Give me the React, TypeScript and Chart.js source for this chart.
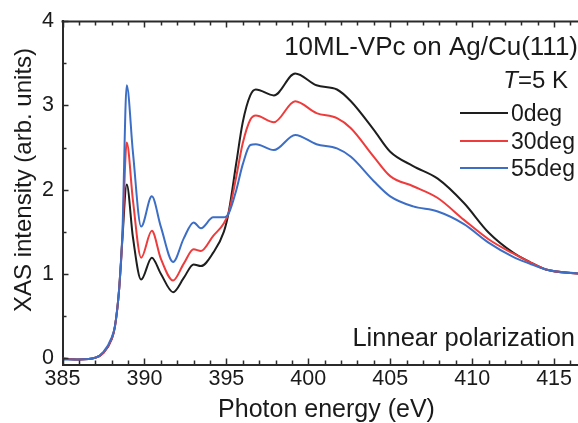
import { useEffect, useRef } from "react";
import { Chart, registerables } from "chart.js";

Chart.register(...registerables);

const energy = [385, 386, 387, 387.5, 388, 388.2, 388.45, 388.65, 388.92, 389.3, 389.8, 390.45, 391.0, 391.75, 392.4, 393.0, 393.45, 394.2, 394.85, 395.15, 395.6, 396.0, 396.46, 396.8, 397.9, 399.2, 400.5, 401.75, 402.6, 404.0, 405.0, 406.4, 407.9, 409.5, 411.0, 412.5, 413.5, 414.5, 416.5];
const deg0 = [-0.01, -0.02, 0.0, 0.06, 0.22, 0.37, 0.8, 1.4, 2.06, 1.43, 0.93, 1.19, 1.0, 0.78, 0.95, 1.11, 1.09, 1.25, 1.5, 1.74, 2.31, 2.8, 3.12, 3.19, 3.12, 3.38, 3.24, 3.19, 3.05, 2.71, 2.45, 2.28, 2.13, 1.84, 1.49, 1.25, 1.14, 1.05, 1.0];
const deg30 = [-0.01, -0.02, 0.0, 0.06, 0.22, 0.37, 0.8, 1.4, 2.56, 1.87, 1.19, 1.51, 1.18, 0.92, 1.12, 1.29, 1.27, 1.45, 1.6, 1.73, 2.15, 2.55, 2.83, 2.88, 2.8, 3.05, 2.91, 2.85, 2.73, 2.39, 2.16, 2.04, 1.9, 1.64, 1.41, 1.24, 1.14, 1.05, 1.0];
const deg55 = [-0.02, -0.02, 0.0, 0.07, 0.24, 0.38, 0.8, 1.45, 3.24, 2.44, 1.56, 1.92, 1.56, 1.14, 1.42, 1.61, 1.54, 1.67, 1.67, 1.72, 1.99, 2.3, 2.53, 2.54, 2.47, 2.65, 2.54, 2.49, 2.39, 2.1, 1.92, 1.8, 1.74, 1.59, 1.37, 1.2, 1.12, 1.05, 1.0];

const seriesLabels = ["0deg", "30deg", "55deg"];
const seriesColors = ["#1e1e1e", "#ee3b3b", "#3d6ec6"];
const seriesOrder = [2, 1, 0];

const xTicks = [385, 390, 395, 400, 405, 410, 415];
const yTicks = [0, 1, 2, 3, 4];

const sampleTitle = "10ML-VPc on Ag/Cu(111)";
const tempSymbol = "T";
const tempValue = "=5 K";
const polLabel = "Linnear polarization";
const xTitle = "Photon energy (eV)";
const yTitle = "XAS intensity (arb. units)";

const FONT = '"Liberation Sans", Arial, Helvetica, sans-serif';
const TEXT = "#1a1a1a";
const AXIS = "#2a2a2a";

const decorPlugin = {
  id: "decor",
  afterDraw(chart: any) {
    const { ctx, chartArea } = chart;
    const xs = chart.scales.x;
    const ys = chart.scales.y;
    ctx.save();
    // top frame line
    ctx.strokeStyle = AXIS;
    ctx.lineWidth = 2;
    ctx.beginPath();
    ctx.moveTo(chartArea.left - 1, chartArea.top);
    ctx.lineTo(chartArea.right, chartArea.top);
    ctx.stroke();
    // inward ticks on x (bottom & top)
    ctx.lineWidth = 1.5;
    for (let v = 385; v <= 416; v += 1) {
      const px = Math.round(xs.getPixelForValue(v)) + 0.5;
      const len = v % 5 === 0 ? 6 : 4;
      ctx.beginPath();
      ctx.moveTo(px, chartArea.bottom);
      ctx.lineTo(px, chartArea.bottom - len);
      ctx.moveTo(px, chartArea.top);
      ctx.lineTo(px, chartArea.top + len);
      ctx.stroke();
    }
    for (let v = 0; v <= 4; v += 0.5) {
      const py = Math.round(ys.getPixelForValue(v)) + 0.5;
      const len = Number.isInteger(v) ? 6 : 4;
      ctx.beginPath();
      ctx.moveTo(chartArea.left, py);
      ctx.lineTo(chartArea.left + len, py);
      ctx.stroke();
    }

    ctx.fillStyle = TEXT;
    // annotations
    ctx.font = `26px ${FONT}`;
    ctx.textAlign = "right";
    ctx.textBaseline = "alphabetic";
    ctx.fillText(sampleTitle, 578, 55);

    ctx.font = `24px ${FONT}`;
    const wv = ctx.measureText(tempValue).width;
    ctx.fillText(tempValue, 568, 88);
    ctx.font = `italic 24px ${FONT}`;
    ctx.fillText(tempSymbol, 568 - wv, 88);

    ctx.font = `25.5px ${FONT}`;
    ctx.fillText(polLabel, 575, 346);

    // legend
    const legendY = [113, 141, 168];
    chart.data.datasets.forEach((ds: any, i: number) => {
      const y = legendY[i];
      ctx.strokeStyle = ds.borderColor;
      ctx.lineWidth = 2;
      ctx.beginPath();
      ctx.moveTo(460, y);
      ctx.lineTo(508, y);
      ctx.stroke();
      ctx.fillStyle = TEXT;
      ctx.font = `23px ${FONT}`;
      ctx.textAlign = "left";
      ctx.textBaseline = "middle";
      ctx.fillText(ds.label, 511, y + 2);
    });

    // axis titles
    ctx.fillStyle = TEXT;
    ctx.font = `25px ${FONT}`;
    ctx.textAlign = "center";
    ctx.textBaseline = "alphabetic";
    ctx.fillText(xTitle, 326.5, 417);

    ctx.save();
    ctx.translate(24.5, 180);
    ctx.rotate(-Math.PI / 2);
    ctx.font = `24px ${FONT}`;
    ctx.textAlign = "center";
    ctx.textBaseline = "middle";
    ctx.fillText(yTitle, 0, 0);
    ctx.restore();

    ctx.restore();
  },
};

export default function App() {
  const canvasRef = useRef<HTMLCanvasElement | null>(null);

  useEffect(() => {
    const canvas = canvasRef.current;
    if (!canvas) return;
    Chart.defaults.font.family = FONT;
    const seriesValues = [deg0, deg30, deg55];
    const chart = new Chart(canvas, {
      type: "line",
      data: {
        datasets: seriesValues.map((vals, i) => ({
          label: seriesLabels[i],
          data: energy.map((x, j) => ({ x, y: vals[j] })),
          borderColor: seriesColors[i],
          backgroundColor: seriesColors[i],
          borderWidth: 2,
          pointRadius: 0,
          fill: false,
          cubicInterpolationMode: "monotone",
          order: seriesOrder[i],
        })),
      },
      options: {
        animation: false,
        responsive: false,
        devicePixelRatio: 1,
        layout: { padding: { top: 21, right: 0, left: 0, bottom: 0 } },
        plugins: {
          legend: { display: false },
          tooltip: { enabled: false },
          title: { display: false },
        },
        scales: {
          x: {
            type: "linear",
            min: 385,
            max: 416.46,
            afterBuildTicks: (s: any) => {
              s.ticks = xTicks.map((v) => ({ value: v }));
            },
            afterFit: (s: any) => {
              s.height = 58.5;
            },
            grid: { display: false, drawTicks: false },
            border: { display: true, width: 2, color: AXIS },
            ticks: {
              color: TEXT,
              font: { size: 21.5, family: FONT },
              padding: 2,
              maxRotation: 0,
              autoSkip: false,
            },
          },
          y: {
            type: "linear",
            min: -0.08,
            max: 4,
            afterBuildTicks: (s: any) => {
              s.ticks = yTicks.map((v) => ({ value: v }));
            },
            afterFit: (s: any) => {
              s.width = 62.5;
            },
            grid: { display: false, drawTicks: false },
            border: { display: true, width: 2, color: AXIS },
            ticks: {
              color: TEXT,
              font: { size: 21.5, family: FONT },
              padding: 8.5,
              autoSkip: false,
            },
          },
        },
      },
      plugins: [decorPlugin],
    } as any);
    return () => chart.destroy();
  }, []);

  return (
    <div style={{ position: "absolute", left: 0, top: 0, width: 578, height: 423, background: "#fff" }}>
      <canvas ref={canvasRef} width={578} height={423} style={{ display: "block" }} />
    </div>
  );
}
